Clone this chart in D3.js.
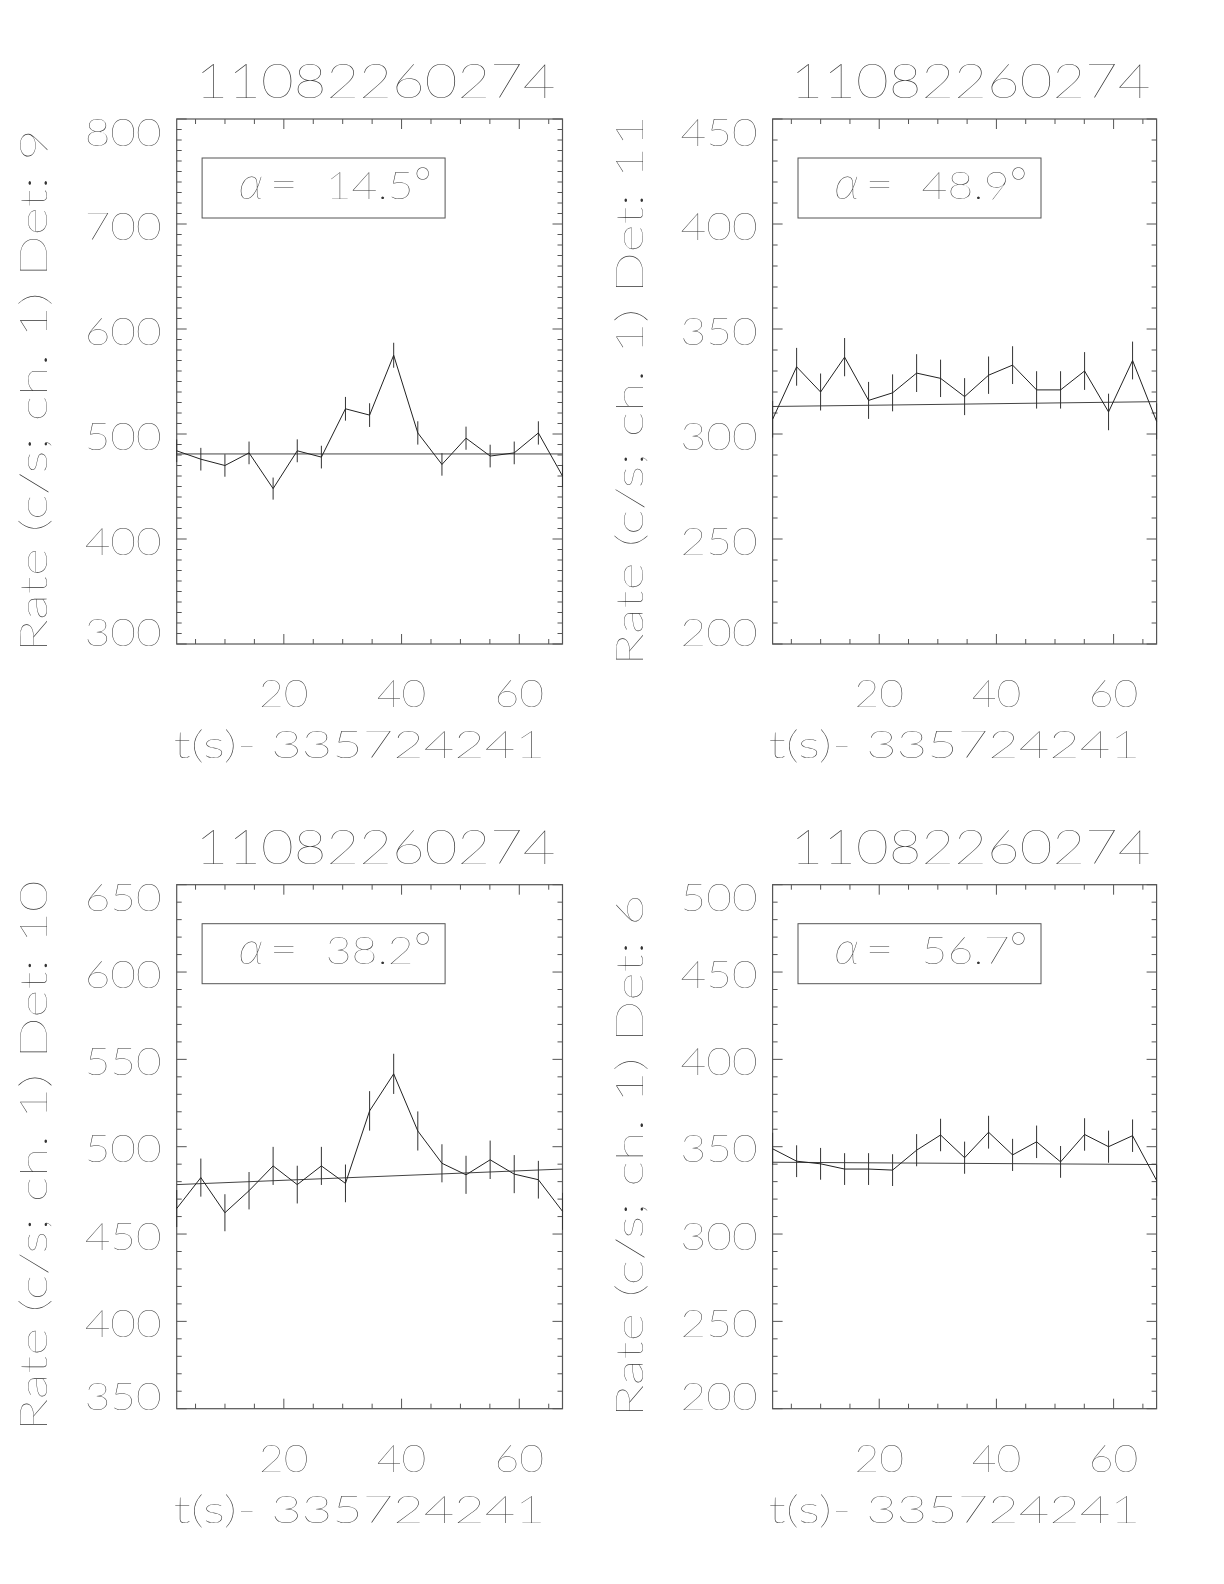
<!DOCTYPE html>
<html><head><meta charset="utf-8">
<script src="https://cdn.jsdelivr.net/npm/d3@7"></script>
<style>
html,body{margin:0;padding:0;background:#fff;}
svg{display:block;will-change:transform;}
text{font-family:"Lato","Roboto","DejaVu Sans",sans-serif;font-weight:200;fill:#333;}
</style></head><body>
<svg id="chart" width="1224" height="1584"></svg>
<script>
// ---------------- data ----------------
const plotTitle = "11082260274";
const xAxisTitle = "t(s)- 335724241";
const detectors = ["9", "11", "10", "6"];
const alphaDeg = ["14.5", "48.9", "38.2", "56.7"];
const timeBins = [1.80, 5.90, 9.99, 14.09, 18.18, 22.28, 26.38, 30.47, 34.57, 38.66, 42.76, 46.86, 50.95, 55.05, 59.14, 63.24, 67.34];

const rateDet9  = [484, 476, 470, 482, 448, 484, 478, 524, 518, 575, 501, 471, 496, 479, 482, 501, 460];
const errDet9   = [10.8, 10.8, 10.7, 10.8, 10.5, 10.9, 10.8, 11.3, 11.3, 11.9, 11.1, 10.7, 11.0, 10.8, 10.8, 11.1, 10.6];
const fitDet9   = [481, 481];

const rateDet11 = [307, 332, 320, 336.6, 316, 319.6, 329, 326.5, 317.8, 328, 332.8, 321, 321, 330, 310.5, 335, 306];
const errDet11  = [8.7, 9.0, 8.8, 9.1, 8.8, 8.8, 9.0, 8.9, 8.8, 8.9, 9.0, 8.9, 8.9, 9.0, 8.7, 9.0, 8.6];
const fitDet11  = [313.1, 315.4];

const rateDet10 = [464.6, 482.3, 462.2, 474.8, 489, 478.3, 489, 479, 520.5, 541.7, 509, 490.5, 483.9, 492.5, 484.3, 481.1, 463];
const errDet10  = [10.6, 10.9, 10.6, 10.7, 10.9, 10.8, 10.9, 10.8, 11.3, 11.5, 11.2, 10.9, 10.9, 11.0, 10.9, 10.8, 10.6];
const fitDet10  = [478.3, 487.2];

const rateDet6  = [348.8, 341.7, 340.2, 337.2, 337.2, 336.6, 348, 356.7, 343.7, 358.3, 345.3, 352.8, 341.3, 357, 350, 356.3, 330.7];
const errDet6   = [9.2, 9.1, 9.1, 9.1, 9.1, 9.1, 9.2, 9.3, 9.2, 9.4, 9.2, 9.3, 9.1, 9.3, 9.2, 9.3, 9.0];
const fitDet6   = [341.1, 339.8];

const yRanges = [[300, 800], [200, 450], [350, 650], [200, 500]];
const yMajorTicks = [
  [300, 400, 500, 600, 700, 800],
  [200, 250, 300, 350, 400, 450],
  [350, 400, 450, 500, 550, 600, 650],
  [200, 250, 300, 350, 400, 450, 500]
];
const yMinorStep = 10;
const xMajorTicks = [20, 40, 60];
const xMinorTicks = [5, 10, 15, 25, 30, 35, 45, 50, 55, 65];

const rates = [rateDet9, rateDet11, rateDet10, rateDet6];
const errs  = [errDet9, errDet11, errDet10, errDet6];
const fits  = [fitDet9, fitDet11, fitDet10, fitDet6];

// ---------------- layout ----------------
const boxes = [
  {x: 176.7, y: 119,   w: 385.8, h: 525},
  {x: 772.6, y: 119,   w: 384.0, h: 525},
  {x: 176.7, y: 884.7, w: 385.8, h: 524},
  {x: 772.6, y: 884.7, w: 384.0, h: 524}
];
const FS = 37.7;          // label font size
const FS_TITLE = 47;      // title font size
const DIGIT = 27.5;       // digit advance
const AXIS = "#555";

const svg = d3.select("#chart");

function addText(g, str, x, y, size, len, anchor) {
  const t = g.append("text")
    .attr("x", x).attr("y", y)
    .attr("font-size", size)
    .attr("text-anchor", anchor || "start")
    .text(str);
  if (len) t.attr("textLength", len).attr("lengthAdjust", "spacingAndGlyphs");
  return t;
}

boxes.forEach((b, i) => {
  const g = svg.append("g");
  const x = d3.scaleLinear().domain([timeBins[0], timeBins[timeBins.length - 1]]).range([b.x, b.x + b.w]);
  const y = d3.scaleLinear().domain(yRanges[i]).range([b.y + b.h, b.y]);

  // ticks (inward on all four sides)
  const yMinor = d3.range(yRanges[i][0], yRanges[i][1] + 0.001, yMinorStep)
    .filter(v => !yMajorTicks[i].includes(v));
  const tk = g.append("g").attr("stroke", AXIS).attr("stroke-width", 1);
  const majL = 10, minL = 5;
  xMajorTicks.forEach(v => {
    tk.append("line").attr("x1", x(v)).attr("x2", x(v)).attr("y1", b.y + b.h).attr("y2", b.y + b.h - majL);
    tk.append("line").attr("x1", x(v)).attr("x2", x(v)).attr("y1", b.y).attr("y2", b.y + majL);
  });
  xMinorTicks.forEach(v => {
    tk.append("line").attr("x1", x(v)).attr("x2", x(v)).attr("y1", b.y + b.h).attr("y2", b.y + b.h - minL);
    tk.append("line").attr("x1", x(v)).attr("x2", x(v)).attr("y1", b.y).attr("y2", b.y + minL);
  });
  yMajorTicks[i].forEach(v => {
    tk.append("line").attr("x1", b.x).attr("x2", b.x + majL).attr("y1", y(v)).attr("y2", y(v));
    tk.append("line").attr("x1", b.x + b.w).attr("x2", b.x + b.w - majL).attr("y1", y(v)).attr("y2", y(v));
  });
  yMinor.forEach(v => {
    tk.append("line").attr("x1", b.x).attr("x2", b.x + minL).attr("y1", y(v)).attr("y2", y(v));
    tk.append("line").attr("x1", b.x + b.w).attr("x2", b.x + b.w - minL).attr("y1", y(v)).attr("y2", y(v));
  });

  // frame
  g.append("rect").attr("x", b.x).attr("y", b.y).attr("width", b.w).attr("height", b.h)
    .attr("fill", "none").attr("stroke", AXIS).attr("stroke-width", 1.2);

  // y tick labels
  yMajorTicks[i].forEach(v => {
    let cy = y(v) + 2;
    cy = Math.max(b.y + 13, Math.min(b.y + b.h - 12, cy));
    const s = String(v);
    addText(g, s, b.x - 15, cy + 13.5, FS, (s.length - 1) * DIGIT + 22, "end");
  });
  // x tick labels
  xMajorTicks.forEach(v => {
    const s = String(v);
    addText(g, s, x(v), b.y + b.h + 63, FS, (s.length - 1) * DIGIT + 22, "middle");
  });
  // x axis title
  addText(g, xAxisTitle, b.x + b.w / 2 - 10, b.y + b.h + 114, FS, 372, "middle");
  // plot title
  addText(g, plotTitle, b.x + b.w / 2 + 6, b.y - 21, FS_TITLE, 360, "middle");
  // y axis title
  const yt = "Rate (c/s; ch. 1) Det: " + detectors[i];
  g.append("text")
    .attr("transform", `translate(${b.x - 130},${b.y + b.h / 2 + 9}) rotate(-90)`)
    .attr("font-size", FS).attr("text-anchor", "middle")
    .attr("textLength", 523 + (detectors[i].length - 1) * DIGIT)
    .attr("lengthAdjust", "spacingAndGlyphs")
    .text(yt);

  // alpha box
  const ax = b.x + 25.4, ay = b.y + 39;
  g.append("rect").attr("x", ax).attr("y", ay).attr("width", 243).attr("height", 60)
    .attr("fill", "none").attr("stroke", AXIS).attr("stroke-width", 1);
  g.append("text").attr("x", b.x + 62).attr("y", b.y + 79.5)
    .attr("font-size", 46).attr("font-style", "italic").text("α");
  addText(g, "=", b.x + 93, b.y + 79.5, FS * 1.1, 28, "start");
  addText(g, alphaDeg[i], b.x + 149, b.y + 79.5, FS, 88, "start");
  addText(g, "°", b.x + 237, b.y + 79.5, FS * 1.15, null, "start");

  // fit line
  g.append("line")
    .attr("x1", x(timeBins[0])).attr("x2", x(timeBins[timeBins.length - 1]))
    .attr("y1", y(fits[i][0])).attr("y2", y(fits[i][1]))
    .attr("stroke", "#444").attr("stroke-width", 1);

  // error bars
  g.append("g").selectAll("line").data(timeBins).join("line")
    .attr("x1", d => x(d)).attr("x2", d => x(d))
    .attr("y1", (d, k) => y(rates[i][k] - errs[i][k]))
    .attr("y2", (d, k) => y(rates[i][k] + errs[i][k]))
    .attr("stroke", "#333").attr("stroke-width", 1);

  // light curve
  const line = d3.line().x((d, k) => x(timeBins[k])).y(d => y(d));
  g.append("path").datum(rates[i]).attr("d", line)
    .attr("fill", "none").attr("stroke", "#222").attr("stroke-width", 1);
});
</script>
</body></html>
